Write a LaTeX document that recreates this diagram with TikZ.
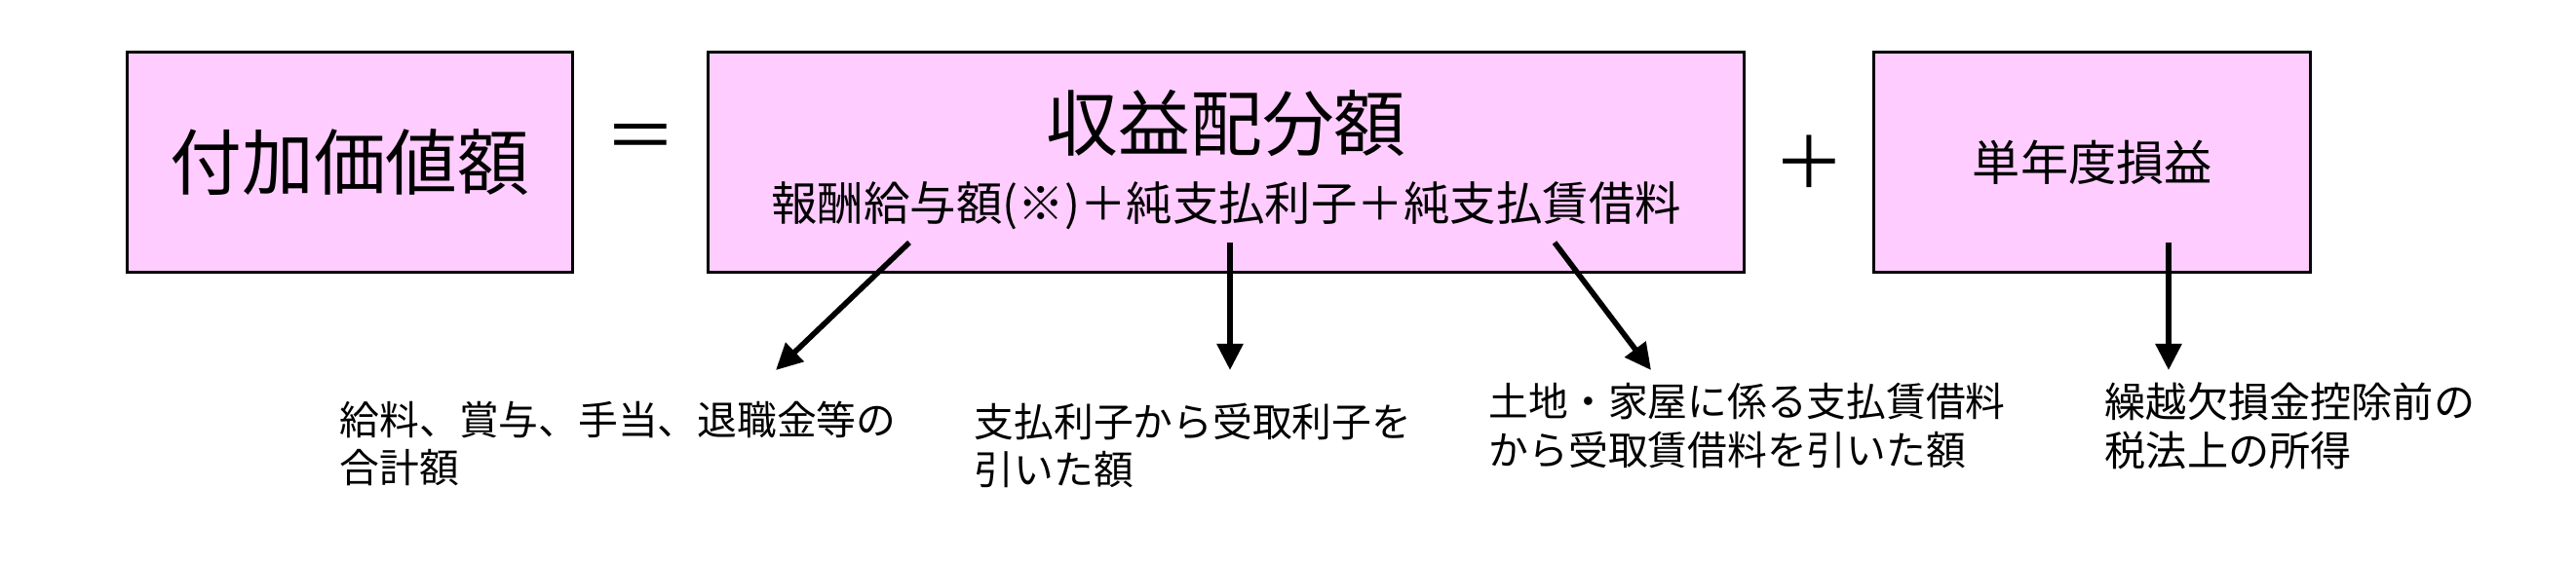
\documentclass[tikz,border=0pt]{standalone}
\usepackage{fontspec}
\setmainfont{Noto Sans CJK JP}
\usetikzlibrary{arrows.meta, positioning, calc}
\definecolor{boxpink}{HTML}{FFCCFF}
\tikzset{
  box/.style={draw, line width=0.9pt, fill=boxpink, minimum height=2.26cm, inner sep=0pt},
  big/.style={font=\fontsize{21}{21}\selectfont},
  sign/.style={font=\fontsize{21}{21}\selectfont, inner sep=0pt},
  arr/.style={-{Triangle[length=2.7mm, width=2.6mm]}, line width=1.6pt},
  note/.style={align=left, inner sep=0pt, anchor=north west, font=\fontsize{11.6}{14.1}\selectfont},
}
\begin{document}
\begin{tikzpicture}[node distance=1.36cm]
    \useasboundingbox (0,0) rectangle (26.43,5.77);
    \node[box, big, minimum width=4.57cm] (fuka) at (3.59,4.105) {付加価値額};
    \node[box, minimum width=10.63cm, right=of fuka] (haibun) {};
    \node[box, minimum width=4.48cm, right=1.30cm of haibun, font=\fontsize{14}{14}\selectfont] (sonkei) {単年度損益};
    \node[big, inner sep=0pt] (title) at ($(haibun.center)+(0,0.40)$) {収益配分額};
    \node[inner sep=0pt, font=\fontsize{13.5}{13.5}\selectfont] (sub) at ($(haibun.center)+(0,-0.45)$) {報酬給与額(※)＋純支払利子＋純支払賃借料};
    \node[sign] (eq) at ($(fuka.east)!0.5!(haibun.west)+(0,0.2)$) {＝};
    \node[sign] (plus) at ($(haibun.east)!0.5!(sonkei.west)$) {＋};
    \coordinate (s1) at (9.33,3.28);
    \coordinate (s2) at (12.62,3.28);
    \coordinate (s3) at (15.95,3.28);
    \coordinate (s4) at (22.25,3.28);
    \coordinate (t1) at (7.96,1.97);
    \coordinate (t2) at (12.62,1.97);
    \coordinate (t3) at (16.94,1.97);
    \coordinate (t4) at (22.25,1.97);
    \node[note] (n1) at (3.48,1.66) {給料、賞与、手当、退職金等の\\合計額};
    \node[note] (n2) at (9.99,1.64) {支払利子から受取利子を\\引いた額};
    \node[note] (n3) at (15.27,1.84) {土地・家屋に係る支払賃借料\\から受取賃借料を引いた額};
    \node[note, font=\fontsize{12}{14.3}\selectfont] (n4) at (21.59,1.85) {繰越欠損金控除前の\\税法上の所得};
    \draw[arr] (s1) -- (t1);
    \draw[arr] (s2) -- (t2);
    \draw[arr] (s3) -- (t3);
    \draw[arr] (s4) -- (t4);
  \end{tikzpicture}
\end{document}
